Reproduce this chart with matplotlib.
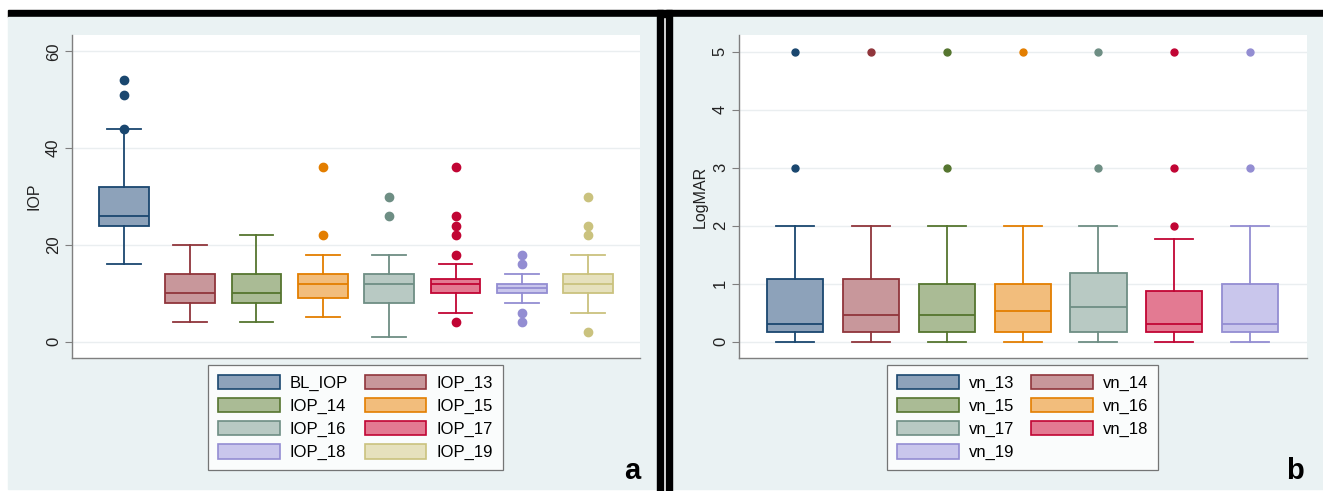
import numpy as np
import matplotlib.pyplot as plt
from matplotlib.patches import Rectangle, Patch

plt.rcParams['font.family'] = ['Liberation Sans', 'DejaVu Sans']

W, H = 1323, 491

# panel a: IOP box plot summaries
iop_names = ["BL_IOP", "IOP_13", "IOP_14", "IOP_15", "IOP_16", "IOP_17", "IOP_18", "IOP_19"]
iop_low = [16, 4, 4, 5, 1, 6, 8, 6]
iop_q1 = [24, 8, 8, 9, 8, 10, 10, 10]
iop_med = [26, 10, 10, 12, 12, 12, 11, 12]
iop_q3 = [32, 14, 14, 14, 14, 13, 12, 14]
iop_high = [44, 20, 22, 18, 18, 16, 14, 18]
iop_out = [[44, 51, 54], [], [], [22, 36], [26, 30],
           [4, 18, 22, 24, 26, 36], [4, 6, 16, 18], [2, 22, 24, 30]]

# panel b: LogMAR
vn_names = ["vn_13", "vn_14", "vn_15", "vn_16", "vn_17", "vn_18", "vn_19"]
vn_low = [0, 0, 0, 0, 0, 0, 0]
vn_q1 = [0.17, 0.17, 0.17, 0.17, 0.17, 0.17, 0.17]
vn_med = [0.3, 0.47, 0.47, 0.53, 0.6, 0.3, 0.3]
vn_q3 = [1.08, 1.08, 1.0, 1.0, 1.18, 0.88, 1.0]
vn_high = [2, 2, 2, 2, 2, 1.77, 2]
vn_out = [[3, 5], [5], [3, 5], [5], [3, 5], [2, 3, 5], [3, 5]]

# stata s2color-like palette
edges = ["#1a476f", "#90353b", "#55752f", "#e37e00", "#6e8e84", "#c10534", "#938dd2", "#cac27e"]
fills = ["#8da2ba", "#c8979b", "#aabb95", "#f2bd7c", "#b8c9c3", "#e37a92", "#c9c6ec", "#e6e1bd"]

bg = "#eaf2f3"


def px_rect(fig, x0, y0, x1, y1, color):
    fig.patches.append(Rectangle((x0 / W, 1 - y1 / H), (x1 - x0) / W, (y1 - y0) / H,
                                 transform=fig.transFigure, color=color, zorder=-1))


def draw_panel(ax, names, low, q1, med, q3, high, out, width, capw, ms):
    for i in range(len(names)):
        st = [dict(whislo=low[i], q1=q1[i], med=med[i], q3=q3[i], whishi=high[i], fliers=out[i])]
        ec = edges[i]
        ax.bxp(st, positions=[i + 1], widths=width, capwidths=capw, patch_artist=True,
               boxprops=dict(facecolor=fills[i], edgecolor=ec, linewidth=1.3),
               medianprops=dict(color=ec, linewidth=1.3),
               whiskerprops=dict(color=ec, linewidth=1.3),
               capprops=dict(color=ec, linewidth=1.3),
               flierprops=dict(marker='o', markerfacecolor=ec, markeredgecolor=ec, markersize=ms),
               manage_ticks=False, zorder=3)
    ax.set_facecolor("white")
    ax.grid(axis='y', color="#eaeef0", linewidth=1.0, zorder=0)
    ax.set_axisbelow(True)
    ax.set_xticks([])
    for s in ["top", "right"]:
        ax.spines[s].set_visible(False)
    for s in ["left", "bottom"]:
        ax.spines[s].set_color("#7f7f7f")
        ax.spines[s].set_linewidth(1.0)
    ax.tick_params(axis='y', labelrotation=90, labelsize=12, length=5, color="#7f7f7f",
                   pad=3, labelcolor="#222222")
    for lab in ax.get_yticklabels():
        lab.set_va('center')


fig = plt.figure(figsize=(W / 100, H / 100), dpi=100, facecolor="white")

# frames
px_rect(fig, 8, 10, W, 17, "black")
px_rect(fig, 8, 17, 657, 489, bg)
px_rect(fig, 672, 17, W, 489, bg)
px_rect(fig, 657, 10, 663, H, "black")
px_rect(fig, 666, 10, 672, H, "black")

ax1 = fig.add_axes([72 / W, 1 - 358 / H, 568 / W, 323 / H])
draw_panel(ax1, iop_names, iop_low, iop_q1, iop_med, iop_q3, iop_high, iop_out,
           width=0.75, capw=0.51, ms=6)
ax1.set_xlim(0.22, 8.78)
ax1.set_ylim(-3.4, 63.4)
ax1.set_yticks([0, 20, 40, 60])
ax1.set_ylabel("IOP", fontsize=11.5, color="#222222")
ax1.yaxis.set_label_coords(-0.054, 0.5)

ax2 = fig.add_axes([739 / W, 1 - 358 / H, 568 / W, 323 / H])
draw_panel(ax2, vn_names, vn_low, vn_q1, vn_med, vn_q3, vn_high, vn_out,
           width=0.74, capw=0.5, ms=5)
ax2.set_xlim(0.26, 7.75)
ax2.set_ylim(-0.28, 5.29)
ax2.set_yticks([0, 1, 2, 3, 4, 5])
ax2.set_ylabel("LogMAR", fontsize=11.5, color="#222222")
ax2.yaxis.set_label_coords(-0.055, 0.5)

# legends (row-major order like stata)
def make_legend(names, anchor):
    n = len(names)
    order = list(range(0, n, 2)) + list(range(1, n, 2))
    handles = [Patch(facecolor=fills[i], edgecolor=edges[i], linewidth=1.2, label=names[i]) for i in order]
    leg = fig.legend(handles=handles, ncol=2, loc='upper left', bbox_to_anchor=anchor,
                     bbox_transform=fig.transFigure, fontsize=12, frameon=True, fancybox=False,
                     handlelength=3.7, handleheight=0.95, labelspacing=0.42, columnspacing=1.0,
                     handletextpad=0.6, borderpad=0.6, borderaxespad=0)
    leg.get_frame().set_edgecolor("#555555")
    leg.get_frame().set_linewidth(0.9)
    return leg

make_legend(iop_names, (208 / W, 1 - 365 / H))
make_legend(vn_names, (887 / W, 1 - 365 / H))

fig.text(640 / W, 1 - 479 / H, "a", fontsize=21, fontweight='bold', ha='right', va='baseline')
fig.text(1304 / W, 1 - 479 / H, "b", fontsize=21, fontweight='bold', ha='right', va='baseline')

fig.savefig("out.png", dpi=100, facecolor=fig.get_facecolor())
